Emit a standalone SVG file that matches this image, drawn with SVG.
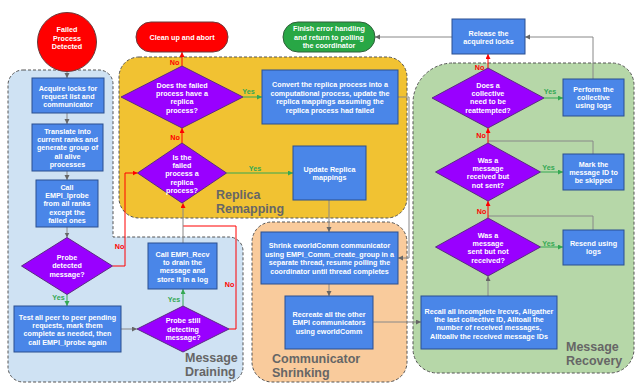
<svg xmlns="http://www.w3.org/2000/svg" width="638" height="385" viewBox="0 0 638 385">
<style>
.region{stroke:#555;stroke-width:1;stroke-dasharray:3 2}
.box{fill:#4a86e8;stroke:#2b4f8f;stroke-width:1}
.dia{fill:#9900ff;stroke:#5a2d82;stroke-width:1}
.t{font-family:"Liberation Sans",Arial,sans-serif;font-weight:bold;font-size:7.2px;fill:#fff;text-anchor:middle}
.rl{font-family:"Liberation Sans",Arial,sans-serif;font-weight:bold;font-size:12.5px;fill:#666}
.yes{font-family:"Liberation Sans",Arial,sans-serif;font-weight:bold;font-size:7.2px;fill:#34a853;text-anchor:middle}
.no{font-family:"Liberation Sans",Arial,sans-serif;font-weight:bold;font-size:7.2px;fill:#ff0000;text-anchor:middle}
.cg{fill:none;stroke:#888;stroke-width:1}
.cr{fill:none;stroke:#ff0000;stroke-width:1}
.cy{fill:none;stroke:#34a853;stroke-width:1}
</style>
<defs>
<marker id="ag" markerUnits="userSpaceOnUse" markerWidth="6" markerHeight="6" refX="5" refY="2.5" orient="auto"><path d="M0,0 L5,2.5 L0,5 z" fill="#666"/></marker>
<marker id="ar" markerUnits="userSpaceOnUse" markerWidth="6" markerHeight="6" refX="5" refY="2.5" orient="auto"><path d="M0,0 L5,2.5 L0,5 z" fill="#ff0000"/></marker>
<marker id="ay" markerUnits="userSpaceOnUse" markerWidth="6" markerHeight="6" refX="5" refY="2.5" orient="auto"><path d="M0,0 L5,2.5 L0,5 z" fill="#34a853"/></marker>
</defs>
<rect width="638" height="385" fill="#fff"/>

<g id="regions">
<path id="region-draining" class="region" fill="#cfe2f3" d="M23,70 H99 A14,14 0 0 1 113,84 V237 H229 A14,14 0 0 1 243,251 V367 A15,15 0 0 1 228,382 H23 A15,15 0 0 1 8,367 V85 A15,15 0 0 1 23,70 Z"/>
<rect id="region-replica" class="region" fill="#f1c232" x="119" y="57" width="288" height="161" rx="20"/>
<rect id="region-shrinking" class="region" fill="#f9cb9c" x="252" y="222" width="155" height="160" rx="20"/>
<path id="region-recovery" class="region" fill="#b6d7a8" d="M453,63 H612 A22,22 0 0 1 634,85 V349 A24,24 0 0 1 610,373 H437 A24,24 0 0 1 413,349 V103 A40,40 0 0 1 453,63 Z"/>
<text class="rl" x="216" y="199">Replica</text>
<text class="rl" x="216" y="213">Remapping</text>
<text class="rl" x="185" y="362">Message</text>
<text class="rl" x="185" y="376">Draining</text>
<text class="rl" x="272" y="363">Communicator</text>
<text class="rl" x="272" y="377">Shrinking</text>
<text class="rl" x="566" y="351">Message</text>
<text class="rl" x="566" y="365">Recovery</text>
</g>

<g id="connectors">
<path class="cg" d="M67,71.5 V78" marker-end="url(#ag)"/>
<path class="cg" d="M67,113 V124" marker-end="url(#ag)"/>
<path class="cg" d="M67,171 V180" marker-end="url(#ag)"/>
<path class="cg" d="M67,227 V237.5" marker-end="url(#ag)"/>
<path class="cy" d="M67,294.5 V306" marker-end="url(#ay)"/>
<text class="yes" x="58.5" y="299.5">Yes</text>
<path class="cg" d="M121,329 H137" marker-end="url(#ag)"/>
<path class="cy" d="M183,306 V289" marker-end="url(#ay)"/>
<text class="yes" x="174" y="301.5">Yes</text>
<path class="cr" d="M229,329 H236 V226 H183"/>
<text class="no" x="229.5" y="286.5">No</text>
<path class="cg" d="M183,243 V203" marker-end="url(#ar)"/>
<path class="cr" d="M112.5,266 H125 V173 H137.5" marker-end="url(#ar)"/>
<text class="no" x="119.5" y="248.5">No</text>
<path class="cr" d="M182,143 V128" marker-end="url(#ar)"/>
<text class="no" x="175" y="139.5">No</text>
<path class="cy" d="M226.5,173 H293" marker-end="url(#ay)"/>
<text class="yes" x="255" y="170.5">Yes</text>
<path class="cr" d="M182,66 V52" marker-end="url(#ar)"/>
<text class="no" x="174.5" y="64.5">No</text>
<path class="cy" d="M243,97 H262" marker-end="url(#ay)"/>
<text class="yes" x="248.5" y="93.5">Yes</text>
<path class="cg" d="M398,97 H409 V258 H398" marker-end="url(#ag)"/>
<path class="cg" d="M329,200 V232" marker-end="url(#ag)"/>
<path class="cg" d="M329,284 V296" marker-end="url(#ag)"/>
<path class="cg" d="M373,322 H421" marker-end="url(#ag)"/>
<path class="cg" d="M488,296 V276" marker-end="url(#ag)"/>
<path class="cy" d="M540.5,247 H563" marker-end="url(#ay)"/>
<text class="yes" x="548.5" y="245.5">Yes</text>
<path class="cg" d="M593,230 V216 H488"/>
<path class="cr" d="M488,218 V201" marker-end="url(#ar)"/>
<text class="no" x="481.5" y="213.5">No</text>
<path class="cy" d="M540.5,172 H563" marker-end="url(#ay)"/>
<text class="yes" x="548.5" y="169.5">Yes</text>
<path class="cg" d="M593,154 V141 H488"/>
<path class="cr" d="M488,143 V128" marker-end="url(#ar)"/>
<text class="no" x="481" y="137.5">No</text>
<path class="cy" d="M544,98 H563" marker-end="url(#ay)"/>
<text class="yes" x="550" y="93.5">Yes</text>
<path class="cr" d="M488,68 V54" marker-end="url(#ar)"/>
<text class="no" x="479.5" y="69.5">No</text>
<path class="cg" d="M593,79 V37 H525" marker-end="url(#ag)"/>
<path class="cg" d="M452,37 H375" marker-end="url(#ag)"/>
</g>

<g id="failed-detected">
<circle cx="67" cy="42" r="29.5" fill="#ff0000" stroke="#6b3a3a" stroke-width="1"/>
<text class="t"><tspan x="67" y="32">Failed</tspan><tspan x="67" y="40.5">Process</tspan><tspan x="67" y="49">Detected</tspan></text>
</g>
<g id="clean-up">
<rect x="136" y="22" width="92" height="30" rx="15" fill="#ff0000" stroke="#6b3a3a" stroke-width="1"/>
<text class="t"><tspan x="182" y="39.6">Clean up and abort</tspan></text>
</g>
<g id="finish">
<rect x="283" y="22" width="92" height="30" rx="15" fill="#28a745" stroke="#2f5f3a" stroke-width="1"/>
<text class="t"><tspan x="329" y="30.8">Finish error handling</tspan><tspan x="329" y="39.6">and return to polling</tspan><tspan x="329" y="48.4">the coordinator</tspan></text>
</g>
<g id="acquire-locks">
<rect class="box" x="32" y="78" width="72" height="35"/>
<text class="t"><tspan x="68" y="90.6">Acquire locks for</tspan><tspan x="68" y="98.9">request list and</tspan><tspan x="68" y="107.2">communicator</tspan></text>
</g>
<g id="translate">
<rect class="box" x="32" y="124" width="71" height="47"/>
<text class="t"><tspan x="67.5" y="133.6">Translate into</tspan><tspan x="67.5" y="141.9">current ranks and</tspan><tspan x="67.5" y="150.2">generate group of</tspan><tspan x="67.5" y="158.5">all alive</tspan><tspan x="67.5" y="166.8">processes</tspan></text>
</g>
<g id="call-iprobe">
<rect class="box" x="36" y="180" width="62" height="47"/>
<text class="t"><tspan x="67" y="189.6">Call</tspan><tspan x="67" y="197.9">EMPI_Iprobe</tspan><tspan x="67" y="206.2">from all ranks</tspan><tspan x="67" y="214.5">except the</tspan><tspan x="67" y="222.8">failed ones</tspan></text>
</g>
<g id="probe-detected">
<polygon class="dia" points="67,237.5 112.5,266 67,294.5 21.5,266"/>
<text class="t"><tspan x="67" y="259.6">Probe</tspan><tspan x="67" y="268">detected</tspan><tspan x="67" y="276.6">message?</tspan></text>
</g>
<g id="test-peer">
<rect class="box" x="14" y="306" width="107" height="46"/>
<text class="t"><tspan x="67.5" y="319.6">Test all peer to peer pending</tspan><tspan x="67.5" y="327.9">requests, mark them</tspan><tspan x="67.5" y="336.2">complete as needed, then</tspan><tspan x="67.5" y="344.5">call EMPI_Iprobe again</tspan></text>
</g>
<g id="probe-still">
<polygon class="dia" points="183,306 229,329 183,352 137,329"/>
<text class="t"><tspan x="183" y="323.2">Probe still</tspan><tspan x="183" y="331.6">detecting</tspan><tspan x="183" y="340">message?</tspan></text>
</g>
<g id="call-recv">
<rect class="box" x="148" y="243" width="69" height="46"/>
<text class="t"><tspan x="182.5" y="256.6">Call EMPI_Recv</tspan><tspan x="182.5" y="264.9">to drain the</tspan><tspan x="182.5" y="273.2">message and</tspan><tspan x="182.5" y="281.5">store it in a log</tspan></text>
</g>
<g id="has-replica">
<polygon class="dia" points="182,66 243,97 182,128 121,97"/>
<text class="t"><tspan x="182" y="87.6">Does the failed</tspan><tspan x="182" y="96">process have a</tspan><tspan x="182" y="104.4">replica</tspan><tspan x="182" y="112.8">process?</tspan></text>
</g>
<g id="is-replica">
<polygon class="dia" points="182,143 226.5,173 182,203 137.5,173"/>
<text class="t"><tspan x="182" y="159.6">Is the</tspan><tspan x="182" y="168">failed</tspan><tspan x="182" y="176.4">process a</tspan><tspan x="182" y="184.8">replica</tspan><tspan x="182" y="193.2">process?</tspan></text>
</g>
<g id="convert">
<rect class="box" x="262" y="70" width="136" height="54"/>
<text class="t"><tspan x="330" y="87.1">Convert the replica process into a</tspan><tspan x="330" y="95.6">computational process, update the</tspan><tspan x="330" y="104.1">replica mappings assuming the</tspan><tspan x="330" y="112.6">replica process had failed</tspan></text>
</g>
<g id="update-replica">
<rect class="box" x="293" y="146" width="73" height="54"/>
<text class="t"><tspan x="329.5" y="171.6">Update Replica</tspan><tspan x="329.5" y="180">mappings</tspan></text>
</g>
<g id="shrink">
<rect class="box" x="261" y="232" width="137" height="52"/>
<text class="t"><tspan x="329.5" y="248.1">Shrink eworldComm communicator</tspan><tspan x="329.5" y="256.6">using EMPI_Comm_create_group in a</tspan><tspan x="329.5" y="265.1">separate thread, resume polling the</tspan><tspan x="329.5" y="273.6">coordinator until thread completes</tspan></text>
</g>
<g id="recreate">
<rect class="box" x="285" y="296" width="88" height="53"/>
<text class="t"><tspan x="329" y="316.6">Recreate all the other</tspan><tspan x="329" y="325.1">EMPI communicators</tspan><tspan x="329" y="333.6">using eworldComm</tspan></text>
</g>
<g id="release-locks">
<rect class="box" x="452" y="19" width="73" height="35"/>
<text class="t"><tspan x="488.5" y="35.9">Release the</tspan><tspan x="488.5" y="44.3">acquired locks</tspan></text>
</g>
<g id="collective-reattempt">
<polygon class="dia" points="488,68 544,98 488,128 432,98"/>
<text class="t"><tspan x="488" y="87.6">Does a</tspan><tspan x="488" y="96">collective</tspan><tspan x="488" y="104.4">need to be</tspan><tspan x="488" y="112.8">reattempted?</tspan></text>
</g>
<g id="perform-collective">
<rect class="box" x="563" y="79" width="61" height="37"/>
<text class="t"><tspan x="593.5" y="91.6">Perform the</tspan><tspan x="593.5" y="100">collective</tspan><tspan x="593.5" y="108.4">using logs</tspan></text>
</g>
<g id="received-not-sent">
<polygon class="dia" points="488,143 540.5,172 488,201 435.5,172"/>
<text class="t"><tspan x="488" y="162.6">Was a</tspan><tspan x="488" y="171">message</tspan><tspan x="488" y="179.4">received but</tspan><tspan x="488" y="187.8">not sent?</tspan></text>
</g>
<g id="mark-skipped">
<rect class="box" x="563" y="154" width="61" height="36"/>
<text class="t"><tspan x="593.5" y="166.6">Mark the</tspan><tspan x="593.5" y="175">message ID to</tspan><tspan x="593.5" y="183.4">be skipped</tspan></text>
</g>
<g id="sent-not-received">
<polygon class="dia" points="488,218 540.5,247 488,276 435.5,247"/>
<text class="t"><tspan x="488" y="237.6">Was a</tspan><tspan x="488" y="246">message</tspan><tspan x="488" y="254.4">sent but not</tspan><tspan x="488" y="262.8">received?</tspan></text>
</g>
<g id="resend">
<rect class="box" x="563" y="230" width="61" height="35"/>
<text class="t"><tspan x="593.5" y="245.6">Resend using</tspan><tspan x="593.5" y="254">logs</tspan></text>
</g>
<g id="recall">
<rect class="box" x="421" y="296" width="136" height="53"/>
<text class="t"><tspan x="489" y="313.6">Recall all incomplete Irecvs, Allgather</tspan><tspan x="489" y="321.9">the last collective ID, Alltoall the</tspan><tspan x="489" y="330.2">number of received messages,</tspan><tspan x="489" y="338.5">Alltoallv the received message IDs</tspan></text>
</g>
</svg>
